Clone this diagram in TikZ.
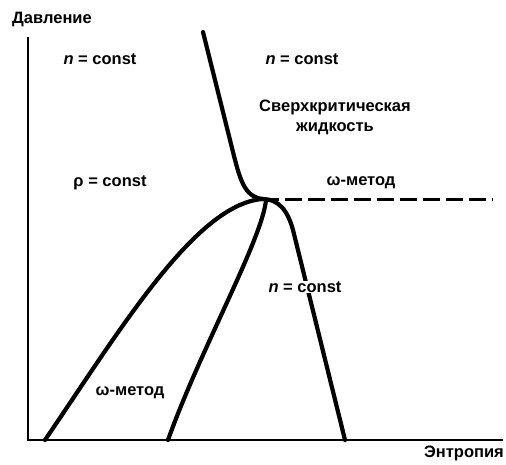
\documentclass[tikz,border=0pt]{standalone}
\usepackage{fontspec}
\setmainfont{Liberation Sans}
\begin{document}
\begin{tikzpicture}[x=1pt,y=-1pt,
  lbl/.style={font=\fontsize{16.5}{20}\selectfont\bfseries, inner sep=1pt, align=center},
  curve/.style={line width=4.2pt, line cap=round},
  axis/.style={line width=1.9pt}]
\useasboundingbox (0,0) rectangle (506,464);
% axes
\coordinate (O) at (28,440);
\coordinate (ytop) at (28,37);
\coordinate (xend) at (503,440);
\draw[axis] (ytop) -- (O) -- (xend);
% critical point and curve points
\coordinate (C) at (262,199);
\coordinate (t0) at (203,32);
\coordinate (t1) at (232,148);
\coordinate (l0) at (45,440);
\coordinate (m0) at (168,440);
\coordinate (m1) at (266,200);
\coordinate (r1) at (293,230);
\coordinate (r0) at (345,440);
\coordinate (d1) at (493,199);
% curves
\draw[curve] (t0) -- (t1) .. controls (240,180) and (244,196) .. (C);
\draw[curve] (l0) .. controls (120,330) and (195,205) .. (C);
\draw[curve] (m0) .. controls (200,350) and (262,240) .. (m1);
\draw[curve] (C) .. controls (280,199) and (288,212) .. (r1) -- (r0);
\draw[line width=3pt, dash pattern=on 17pt off 6pt] (C) -- (d1);
% labels
\node[lbl] (ylab) at (52,19) {Давление};
\node[lbl] (xlab) at (464,453) {Энтропия};
\node[lbl] (n1) at (100,59) {\textit{n} = const};
\node[lbl] (n2) at (302,59) {\textit{n} = const};
\node[lbl] (sc) at (335,117) {Сверхкритическая\\жидкость};
\node[lbl] (rho) at (110,183) {ρ = const};
\node[lbl] (w1) at (361,183) {ω-метод};
\node[lbl, fill=white] (n3) at (305,287) {\textit{n} = const};
\node[lbl] (w2) at (130,393) {ω-метод};
\end{tikzpicture}
\end{document}
